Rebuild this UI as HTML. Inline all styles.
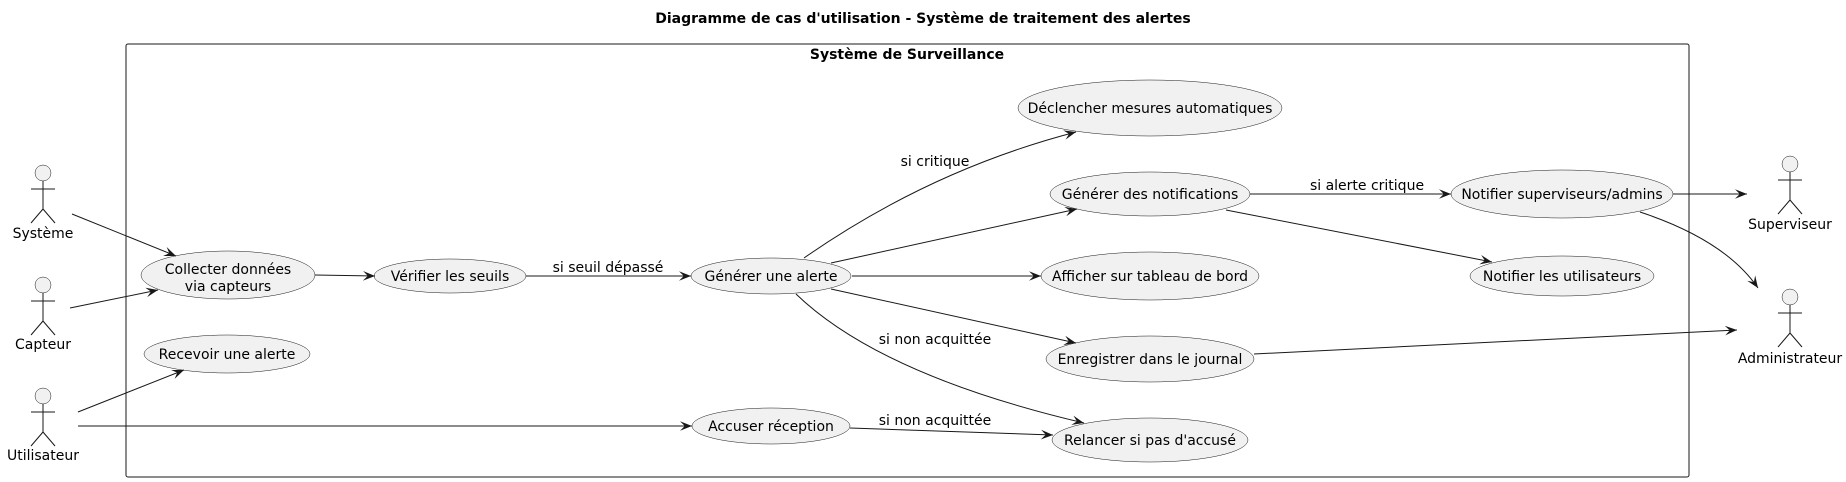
<!DOCTYPE html>
<html><head><meta charset="utf-8"><style>
html,body{margin:0;padding:0;background:#fff;}
svg{display:block;font-family:"DejaVu Sans","Liberation Sans",sans-serif;}
text{fill:#000;font-size:14px;}
.e{fill:#f1f1f1;stroke:#181818;stroke-width:0.5;}
.l{fill:none;stroke:#181818;stroke-width:1;}
.a{fill:#f1f1f1;stroke:#181818;stroke-width:0.5;}
</style></head><body>
<svg width="1846" height="482" viewBox="0 0 1846 482" xmlns="http://www.w3.org/2000/svg">
<defs>
<marker id="ar" viewBox="0 0 10 8" refX="10" refY="4" markerWidth="12" markerHeight="10" markerUnits="userSpaceOnUse" orient="auto">
<path d="M0,0 L10,4 L0,8 L4,4 Z" fill="#181818"/>
</marker>
</defs>
<text x="923" y="23" text-anchor="middle" font-weight="bold">Diagramme de cas d'utilisation - Système de traitement des alertes</text>
<rect x="126" y="44" width="1563" height="433" rx="2" fill="none" stroke="#181818" stroke-width="1"/>
<text x="907" y="59" text-anchor="middle" font-weight="bold">Système de Surveillance</text>

<g>
<circle class="a" cx="43" cy="173" r="8"/><path class="l" d="M43,181 V209 M31,189 H55 M43,209 L31,223 M43,209 L55,223" stroke-width="0.5"/>
<text x="43" y="238" text-anchor="middle">Système</text>
<circle class="a" cx="43" cy="285" r="8"/><path class="l" d="M43,293 V321 M31,301 H55 M43,321 L31,335 M43,321 L55,335" stroke-width="0.5"/>
<text x="43" y="349" text-anchor="middle">Capteur</text>
<circle class="a" cx="43" cy="396" r="8"/><path class="l" d="M43,404 V432 M31,412 H55 M43,432 L31,446 M43,432 L55,446" stroke-width="0.5"/>
<text x="43" y="460" text-anchor="middle">Utilisateur</text>
<circle class="a" cx="1790" cy="164" r="8"/><path class="l" d="M1790,172 V200 M1778,180 H1802 M1790,200 L1778,214 M1790,200 L1802,214" stroke-width="0.5"/>
<text x="1790" y="229" text-anchor="middle">Superviseur</text>
<circle class="a" cx="1790" cy="297" r="8"/><path class="l" d="M1790,305 V333 M1778,313 H1802 M1790,333 L1778,347 M1790,333 L1802,347" stroke-width="0.5"/>
<text x="1790" y="363" text-anchor="middle">Administrateur</text>
</g>

<ellipse class="e" cx="228" cy="275" rx="87" ry="24"/>
<text x="228" y="274" text-anchor="middle">Collecter données</text>
<text x="228" y="291" text-anchor="middle">via capteurs</text>
<ellipse class="e" cx="450" cy="276" rx="76" ry="17"/>
<text x="450" y="281" text-anchor="middle">Vérifier les seuils</text>
<ellipse class="e" cx="227" cy="354" rx="83" ry="19"/>
<text x="227" y="359" text-anchor="middle">Recevoir une alerte</text>
<ellipse class="e" cx="771" cy="276" rx="80" ry="18"/>
<text x="771" y="281" text-anchor="middle">Générer une alerte</text>
<ellipse class="e" cx="771" cy="426" rx="79" ry="18"/>
<text x="771" y="431" text-anchor="middle">Accuser réception</text>
<ellipse class="e" cx="1150" cy="108" rx="132" ry="28"/>
<text x="1150" y="113" text-anchor="middle">Déclencher mesures automatiques</text>
<ellipse class="e" cx="1150" cy="194" rx="100" ry="22"/>
<text x="1150" y="199" text-anchor="middle">Générer des notifications</text>
<ellipse class="e" cx="1150" cy="276" rx="109" ry="24"/>
<text x="1150" y="281" text-anchor="middle">Afficher sur tableau de bord</text>
<ellipse class="e" cx="1150" cy="359" rx="104" ry="23"/>
<text x="1150" y="364" text-anchor="middle">Enregistrer dans le journal</text>
<ellipse class="e" cx="1150" cy="440" rx="98" ry="22"/>
<text x="1150" y="445" text-anchor="middle">Relancer si pas d'accusé</text>
<ellipse class="e" cx="1562" cy="194" rx="111" ry="24"/>
<text x="1562" y="199" text-anchor="middle">Notifier superviseurs/admins</text>
<ellipse class="e" cx="1562" cy="276" rx="92" ry="20"/>
<text x="1562" y="281" text-anchor="middle">Notifier les utilisateurs</text>

<path class="l" marker-end="url(#ar)" d="M72,214 L176,256"/>
<path class="l" marker-end="url(#ar)" d="M70,308 L158,290"/>
<path class="l" marker-end="url(#ar)" d="M78,412 L184,370"/>
<path class="l" marker-end="url(#ar)" d="M78,426 L692,426"/>
<path class="l" marker-end="url(#ar)" d="M315,275 L375,276"/>
<path class="l" marker-end="url(#ar)" d="M526,276 L691,276"/>
<text x="608" y="272" text-anchor="middle">si seuil dépassé</text>
<path class="l" marker-end="url(#ar)" d="M804,258 Q930,170 1076,132"/>
<text x="935" y="166" text-anchor="middle">si critique</text>
<path class="l" marker-end="url(#ar)" d="M831,263 L1077,209"/>
<path class="l" marker-end="url(#ar)" d="M852,276 L1041,276"/>
<path class="l" marker-end="url(#ar)" d="M831,289 L1076,343"/>
<path class="l" marker-end="url(#ar)" d="M796,294 Q880,375 1084,423"/>
<text x="935" y="344" text-anchor="middle">si non acquittée</text>
<path class="l" marker-end="url(#ar)" d="M850,428 L1053,435"/>
<text x="935" y="425" text-anchor="middle">si non acquittée</text>
<path class="l" marker-end="url(#ar)" d="M1250,194 L1451,194"/>
<text x="1367" y="190" text-anchor="middle">si alerte critique</text>
<path class="l" marker-end="url(#ar)" d="M1226,210 L1492,262"/>
<path class="l" marker-end="url(#ar)" d="M1673,194 L1747,194"/>
<path class="l" marker-end="url(#ar)" d="M1640,212 Q1725,240 1758,288"/>
<path class="l" marker-end="url(#ar)" d="M1254,354 L1737,330"/>
</svg>
</body></html>
